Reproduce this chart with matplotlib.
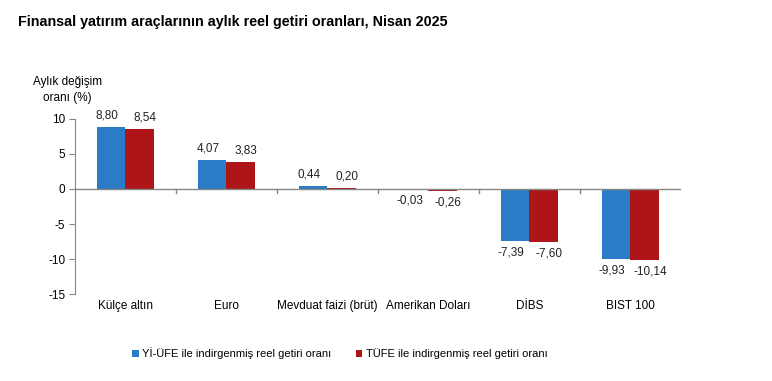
import numpy as np
import matplotlib.pyplot as plt

plt.rcParams['font.family'] = ['Liberation Sans', 'DejaVu Sans']

# Chart data
categories = ['Külçe altın', 'Euro', 'Mevduat faizi (brüt)', 'Amerikan Doları', 'DİBS', 'BIST 100']
yi_ufe = [8.80, 4.07, 0.44, -0.03, -7.39, -9.93]
tufe = [8.54, 3.83, 0.20, -0.26, -7.60, -10.14]
series_names = ['Yİ-ÜFE ile indirgenmiş reel getiri oranı', 'TÜFE ile indirgenmiş reel getiri oranı']
yticks = [10, 5, 0, -5, -10, -15]

blue = '#2B7CC6'
red = '#AE1518'
axis_color = '#868686'

fig = plt.figure(figsize=(7.72, 3.81), dpi=100)
ax = fig.add_axes([0.097, 0.228, 0.785, 0.46])

x = np.arange(len(categories))
w = 0.28
b1 = ax.bar(x - w / 2, yi_ufe, w, color=blue, label=series_names[0])
b2 = ax.bar(x + w / 2, tufe, w, color=red, label=series_names[1])

def fmt(v):
    return f'{v:.2f}'.replace('.', ',')

# labels sit a little outward from the bar centres, like the original
for bars, vals, dx in ((b1, yi_ufe, -3), (b2, tufe, 4)):
    for bar, v in zip(bars, vals):
        cx = bar.get_x() + bar.get_width() / 2
        if v >= 0:
            ax.annotate(fmt(v), (cx, v), xytext=(dx, 4), textcoords='offset points',
                        ha='center', va='bottom', fontsize=8.5, color='#222222')
        else:
            ax.annotate(fmt(v), (cx, v), xytext=(dx, -4), textcoords='offset points',
                        ha='center', va='top', fontsize=8.5, color='#222222')

ax.set_xlim(-0.5, len(categories) - 0.5)
ax.set_ylim(-15, 10)
ax.set_yticks(yticks)
ax.set_yticklabels([str(t) for t in yticks], fontsize=8.5)
ax.tick_params(axis='y', length=4, color=axis_color, pad=3)

# zero line with tick marks between categories
ax.axhline(0, color=axis_color, lw=1, zorder=3)
for b in np.arange(0.5, len(categories) - 0.5, 1):
    ax.plot([b, b], [0, -0.55], color=axis_color, lw=1, zorder=3, clip_on=False)

ax.set_xticks(x)
ax.set_xticklabels(categories, fontsize=8.5)
ax.tick_params(axis='x', length=0, pad=4)

for s in ['top', 'right', 'bottom']:
    ax.spines[s].set_visible(False)
ax.spines['left'].set_color(axis_color)

fig.text(0.087, 0.728, 'Aylık değişim\noranı (%)', fontsize=8.5, ha='center', va='bottom',
         multialignment='center', linespacing=1.45)
fig.text(0.023, 0.942, 'Finansal yatırım araçlarının aylık reel getiri oranları, Nisan 2025',
         fontsize=10.3, fontweight='bold', ha='left', va='center')

fig.legend(handles=[b1, b2], labels=series_names, loc='center', bbox_to_anchor=(0.44, 0.073),
           ncol=2, frameon=False, fontsize=8, handlelength=0.6, handleheight=0.6,
           handletextpad=0.3, columnspacing=2.2)

fig.savefig('out.png', dpi=100)
